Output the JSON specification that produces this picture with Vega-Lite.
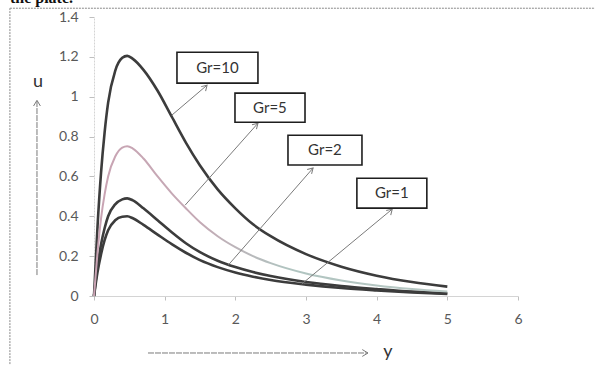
{
  "$schema": "https://vega.github.io/schema/vega-lite/v6.json",
  "width": 424,
  "height": 279,
  "autosize": {"type": "none"},
  "padding": {"left": 94, "top": 17, "right": 77, "bottom": 69},
  "background": "white",
  "config": {
    "view": {"stroke": null},
    "font": "Lato"
  },
  "resolve": {"axis": {"x": "independent", "y": "independent"}},
  "datasets": {
    "curves": [
      {"Gr": "10", "y": 0, "u": 0}, {"Gr": "10", "y": 0.05, "u": 0.35}, {"Gr": "10", "y": 0.1, "u": 0.62}, {"Gr": "10", "y": 0.15, "u": 0.82}, {"Gr": "10", "y": 0.2, "u": 0.97}, {"Gr": "10", "y": 0.3, "u": 1.13}, {"Gr": "10", "y": 0.4, "u": 1.195}, {"Gr": "10", "y": 0.47, "u": 1.205}, {"Gr": "10", "y": 0.55, "u": 1.19}, {"Gr": "10", "y": 0.7, "u": 1.135}, {"Gr": "10", "y": 0.9, "u": 1.03}, {"Gr": "10", "y": 1.1, "u": 0.9}, {"Gr": "10", "y": 1.3, "u": 0.77}, {"Gr": "10", "y": 1.5, "u": 0.655}, {"Gr": "10", "y": 1.75, "u": 0.535}, {"Gr": "10", "y": 2, "u": 0.44}, {"Gr": "10", "y": 2.25, "u": 0.36}, {"Gr": "10", "y": 2.5, "u": 0.3}, {"Gr": "10", "y": 3, "u": 0.21}, {"Gr": "10", "y": 3.5, "u": 0.147}, {"Gr": "10", "y": 4, "u": 0.102}, {"Gr": "10", "y": 4.5, "u": 0.07}, {"Gr": "10", "y": 5, "u": 0.047},
      {"Gr": "5", "y": 0, "u": 0}, {"Gr": "5", "y": 0.05, "u": 0.22}, {"Gr": "5", "y": 0.1, "u": 0.39}, {"Gr": "5", "y": 0.15, "u": 0.51}, {"Gr": "5", "y": 0.2, "u": 0.6}, {"Gr": "5", "y": 0.3, "u": 0.7}, {"Gr": "5", "y": 0.4, "u": 0.745}, {"Gr": "5", "y": 0.47, "u": 0.752}, {"Gr": "5", "y": 0.55, "u": 0.74}, {"Gr": "5", "y": 0.7, "u": 0.69}, {"Gr": "5", "y": 0.9, "u": 0.6}, {"Gr": "5", "y": 1.1, "u": 0.515}, {"Gr": "5", "y": 1.3, "u": 0.44}, {"Gr": "5", "y": 1.5, "u": 0.37}, {"Gr": "5", "y": 1.75, "u": 0.3}, {"Gr": "5", "y": 2, "u": 0.245}, {"Gr": "5", "y": 2.25, "u": 0.2}, {"Gr": "5", "y": 2.5, "u": 0.165}, {"Gr": "5", "y": 3, "u": 0.113}, {"Gr": "5", "y": 3.5, "u": 0.078}, {"Gr": "5", "y": 4, "u": 0.053}, {"Gr": "5", "y": 4.5, "u": 0.035}, {"Gr": "5", "y": 5, "u": 0.022},
      {"Gr": "2", "y": 0, "u": 0}, {"Gr": "2", "y": 0.05, "u": 0.15}, {"Gr": "2", "y": 0.1, "u": 0.26}, {"Gr": "2", "y": 0.15, "u": 0.34}, {"Gr": "2", "y": 0.2, "u": 0.4}, {"Gr": "2", "y": 0.3, "u": 0.46}, {"Gr": "2", "y": 0.4, "u": 0.485}, {"Gr": "2", "y": 0.47, "u": 0.49}, {"Gr": "2", "y": 0.55, "u": 0.48}, {"Gr": "2", "y": 0.7, "u": 0.44}, {"Gr": "2", "y": 0.9, "u": 0.38}, {"Gr": "2", "y": 1.1, "u": 0.32}, {"Gr": "2", "y": 1.3, "u": 0.265}, {"Gr": "2", "y": 1.5, "u": 0.22}, {"Gr": "2", "y": 1.75, "u": 0.177}, {"Gr": "2", "y": 2, "u": 0.145}, {"Gr": "2", "y": 2.25, "u": 0.12}, {"Gr": "2", "y": 2.5, "u": 0.1}, {"Gr": "2", "y": 3, "u": 0.07}, {"Gr": "2", "y": 3.5, "u": 0.05}, {"Gr": "2", "y": 4, "u": 0.035}, {"Gr": "2", "y": 4.5, "u": 0.022}, {"Gr": "2", "y": 5, "u": 0.014},
      {"Gr": "1", "y": 0, "u": 0}, {"Gr": "1", "y": 0.05, "u": 0.12}, {"Gr": "1", "y": 0.1, "u": 0.21}, {"Gr": "1", "y": 0.15, "u": 0.28}, {"Gr": "1", "y": 0.2, "u": 0.33}, {"Gr": "1", "y": 0.3, "u": 0.38}, {"Gr": "1", "y": 0.4, "u": 0.398}, {"Gr": "1", "y": 0.47, "u": 0.4}, {"Gr": "1", "y": 0.55, "u": 0.39}, {"Gr": "1", "y": 0.7, "u": 0.357}, {"Gr": "1", "y": 0.9, "u": 0.308}, {"Gr": "1", "y": 1.1, "u": 0.26}, {"Gr": "1", "y": 1.3, "u": 0.217}, {"Gr": "1", "y": 1.5, "u": 0.18}, {"Gr": "1", "y": 1.75, "u": 0.145}, {"Gr": "1", "y": 2, "u": 0.118}, {"Gr": "1", "y": 2.25, "u": 0.097}, {"Gr": "1", "y": 2.5, "u": 0.08}, {"Gr": "1", "y": 3, "u": 0.057}, {"Gr": "1", "y": 3.5, "u": 0.04}, {"Gr": "1", "y": 4, "u": 0.028}, {"Gr": "1", "y": 4.5, "u": 0.018}, {"Gr": "1", "y": 5, "u": 0.01}
    ],
    "boxes": [
      {"label": "Gr=10", "y": 1.174, "y2": 2.32, "u": 1.223, "u2": 1.068, "ty": 1.747, "tu": 1.145},
      {"label": "Gr=5", "y": 1.995, "y2": 2.986, "u": 1.018, "u2": 0.872, "ty": 2.49, "tu": 0.945},
      {"label": "Gr=2", "y": 2.745, "y2": 3.792, "u": 0.807, "u2": 0.657, "ty": 3.268, "tu": 0.732},
      {"label": "Gr=1", "y": 3.72, "y2": 4.71, "u": 0.591, "u2": 0.441, "ty": 4.215, "tu": 0.516}
    ],
    "arrows": [
      {"label": "Gr=10", "y": 1.1, "u": 0.907, "y2": 1.6, "u2": 1.058},
      {"label": "Gr=5", "y": 1.29, "u": 0.456, "y2": 2.32, "u2": 0.867},
      {"label": "Gr=2", "y": 1.9, "u": 0.155, "y2": 3.1, "u2": 0.642},
      {"label": "Gr=1", "y": 2.94, "u": 0.06, "y2": 4.22, "u2": 0.436}
    ]
  },
  "layer": [
    {
      "data": {"name": "curves"},
      "transform": [{"filter": "datum.Gr != '5'"}],
      "mark": {"type": "line", "interpolate": "monotone", "stroke": "#3c3c3c", "strokeWidth": 2.6},
      "encoding": {
        "x": {"field": "y", "type": "quantitative", "scale": {"domain": [0, 6], "nice": false, "zero": false},
          "axis": {"title": null, "values": [0, 1, 2, 3, 4, 5, 6], "format": "d", "grid": false, "labelFlush": false, "labelOverlap": false, "domainColor": "#d4d4d4", "tickColor": "#bfbfbf", "tickSize": 4, "labelPadding": 12, "labelFontSize": 14, "labelColor": "#595959", "labelFont": "Lato"}},
        "y": {"field": "u", "type": "quantitative", "scale": {"domain": [0, 1.4], "nice": false, "zero": false},
          "axis": {"title": null, "values": [0, 0.2, 0.4, 0.6, 0.8, 1, 1.2, 1.4], "format": ".1~f", "grid": false, "labelFlush": false, "labelOverlap": false, "labelBound": false, "domainColor": "#d4d4d4", "domainDash": [2, 1], "tickColor": "#bfbfbf", "tickSize": 5, "labelPadding": 11, "labelFontSize": 14, "labelColor": "#595959", "labelFont": "Lato"}},
        "detail": {"field": "Gr"}
      }
    },
    {
      "data": {"values": [{"y": -1.19, "y2": 9, "u": 1.444, "u2": -2}]},
      "mark": {"type": "rect", "fill": null, "stroke": "#8a8a8a", "strokeWidth": 1, "strokeDash": [2, 1]},
      "encoding": {
        "x": {"field": "y", "type": "quantitative", "axis": null},
        "x2": {"field": "y2"},
        "y": {"field": "u", "type": "quantitative", "axis": null},
        "y2": {"field": "u2"}
      }
    },
    {
      "data": {"name": "curves"},
      "transform": [{"filter": "datum.Gr == '5'"}],
      "mark": {"type": "line", "interpolate": "monotone", "strokeWidth": 2,
        "stroke": {"gradient": "linear", "x1": 0, "y1": 0, "x2": 1, "y2": 0,
          "stops": [{"offset": 0, "color": "#c9a3b3"}, {"offset": 0.3, "color": "#c4aab5"}, {"offset": 0.55, "color": "#b0c4c0"}, {"offset": 1, "color": "#b8c8c4"}]}},
      "encoding": {
        "x": {"field": "y", "type": "quantitative", "axis": null},
        "y": {"field": "u", "type": "quantitative", "axis": null}
      }
    },
    {
      "data": {"name": "arrows"},
      "mark": {"type": "rule", "stroke": "#7a7a7a", "strokeWidth": 1},
      "encoding": {
        "x": {"field": "y", "type": "quantitative", "axis": null},
        "x2": {"field": "y2"},
        "y": {"field": "u", "type": "quantitative", "axis": null},
        "y2": {"field": "u2"}
      }
    },
    {
      "data": {"name": "arrows"},
      "mark": {"type": "point", "shape": "M-1,-0.6L0,0L-1,0.6", "filled": false, "stroke": "#7a7a7a", "strokeWidth": 1, "size": 110, "angle": 315, "opacity": 1},
      "encoding": {
        "x": {"field": "y2", "type": "quantitative", "axis": null},
        "y": {"field": "u2", "type": "quantitative", "axis": null}
      }
    },
    {
      "data": {"name": "boxes"},
      "mark": {"type": "rect", "fill": "white", "stroke": "#1e1e1e", "strokeWidth": 1.6},
      "encoding": {
        "x": {"field": "y", "type": "quantitative", "axis": null},
        "x2": {"field": "y2"},
        "y": {"field": "u", "type": "quantitative", "axis": null},
        "y2": {"field": "u2"}
      }
    },
    {
      "data": {"name": "boxes"},
      "mark": {"type": "text", "font": "Lato", "fontSize": 15, "color": "#333333", "align": "center", "baseline": "middle"},
      "encoding": {
        "x": {"field": "ty", "type": "quantitative", "axis": null},
        "y": {"field": "tu", "type": "quantitative", "axis": null},
        "text": {"field": "label"}
      }
    },
    {
      "data": {"values": [
        {"y": -0.807, "u": 0.105, "y2": -0.807, "u2": 0.982},
        {"y": 0.764, "u": -0.286, "y2": 3.877, "u2": -0.286}
      ]},
      "mark": {"type": "rule", "stroke": "#7a7a7a", "strokeWidth": 1, "strokeDash": [6, 1]},
      "encoding": {
        "x": {"field": "y", "type": "quantitative", "axis": null},
        "x2": {"field": "y2"},
        "y": {"field": "u", "type": "quantitative", "axis": null},
        "y2": {"field": "u2"}
      }
    },
    {
      "data": {"values": [{"hy": -0.807, "hu": 0.982}]},
      "mark": {"type": "point", "shape": "M-1,-0.6L0,0L-1,0.6", "filled": false, "stroke": "#7a7a7a", "strokeWidth": 1, "size": 130, "angle": 270, "opacity": 1},
      "encoding": {
        "x": {"field": "hy", "type": "quantitative", "axis": null},
        "y": {"field": "hu", "type": "quantitative", "axis": null}
      }
    },
    {
      "data": {"values": [{"hy": 3.877, "hu": -0.286}]},
      "mark": {"type": "point", "shape": "M-1,-0.6L0,0L-1,0.6", "filled": false, "stroke": "#7a7a7a", "strokeWidth": 1, "size": 130, "angle": 0, "opacity": 1},
      "encoding": {
        "x": {"field": "hy", "type": "quantitative", "axis": null},
        "y": {"field": "hu", "type": "quantitative", "axis": null}
      }
    },
    {
      "data": {"values": [
        {"t": "u", "ty": -0.793, "tu": 1.073},
        {"t": "y", "ty": 4.16, "tu": -0.28}
      ]},
      "mark": {"type": "text", "font": "Lato", "fontSize": 18, "color": "#333333", "align": "center", "baseline": "middle"},
      "encoding": {
        "x": {"field": "ty", "type": "quantitative", "axis": null},
        "y": {"field": "tu", "type": "quantitative", "axis": null},
        "text": {"field": "t"}
      }
    },
    {
      "data": {"values": [{"t": "the plate.", "ty": -1.19, "tu": 1.4687}]},
      "mark": {"type": "text", "font": "Liberation Serif", "fontSize": 16, "fontWeight": "bold", "color": "#111111", "align": "left", "baseline": "alphabetic"},
      "encoding": {
        "x": {"field": "ty", "type": "quantitative", "axis": null},
        "y": {"field": "tu", "type": "quantitative", "axis": null},
        "text": {"field": "t"}
      }
    }
  ]
}
